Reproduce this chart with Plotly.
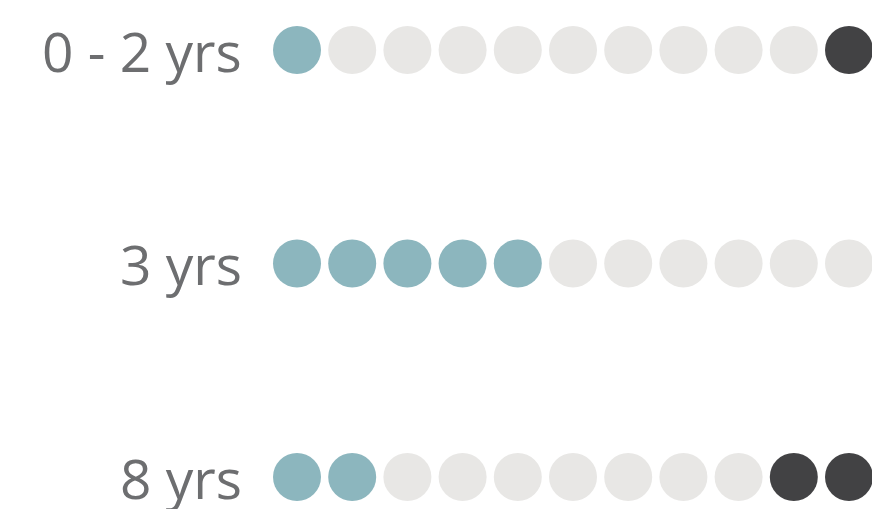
import plotly.graph_objects as go

categories = ["0 - 2 yrs", "3 yrs", "8 yrs"]
highlight_counts = [1, 5, 2]
dark_counts = [1, 0, 2]
total_dots = 11

TEAL = "#8cb6be"
GREY = "#e8e7e5"
DARK = "#424244"

xs, ys, cols = [], [], []
for r, (h, d) in enumerate(zip(highlight_counts, dark_counts)):
    for i in range(total_dots):
        xs.append(i)
        ys.append(r)
        if i < h:
            cols.append(TEAL)
        elif i >= total_dots - d:
            cols.append(DARK)
        else:
            cols.append(GREY)

fig = go.Figure()
fig.add_trace(go.Scatter(
    x=xs, y=ys, mode="markers",
    marker=dict(size=48, color=cols, line=dict(width=0)),
    hoverinfo="skip", cliponaxis=True,
))

for r, c in enumerate(categories):
    fig.add_annotation(x=(244 - 297) / 55.2, y=r, text=c, showarrow=False,
                       xanchor="right", yanchor="middle",
                       font=dict(family="Open Sans", size=55, color="#6d6e70"))

fig.update_layout(
    width=872, height=509,
    margin=dict(l=0, r=0, t=0, b=0),
    paper_bgcolor="white", plot_bgcolor="white",
    showlegend=False,
    xaxis=dict(range=[-297/55.2, (872-297)/55.2], visible=False, fixedrange=True),
    yaxis=dict(range=[(509-50)/213.5, -50/213.5], visible=False, fixedrange=True),
)
fig.write_html("out.html", config={"displayModeBar": False},
               post_script="document.body.style.margin='0';document.body.style.overflow='hidden';")
